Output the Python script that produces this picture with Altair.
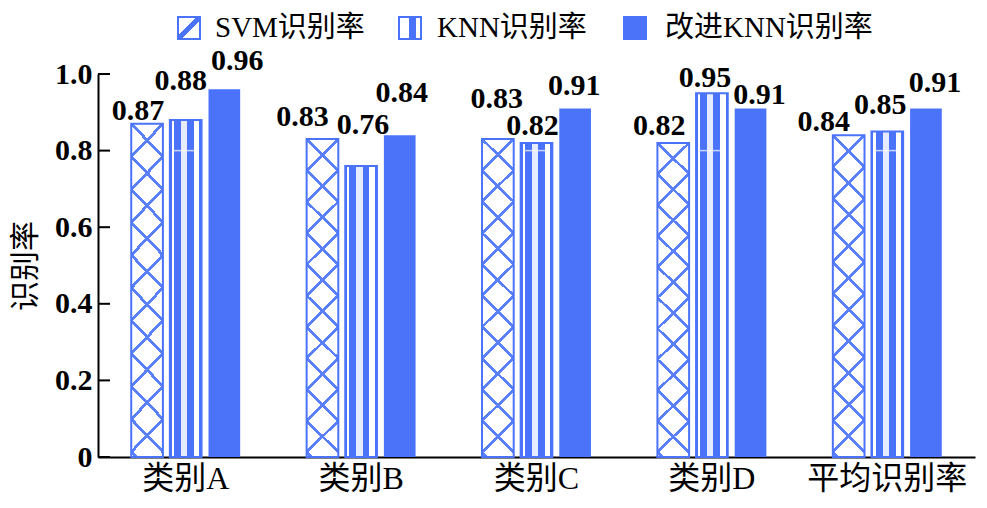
import altair as alt
import pandas as pd

# ---------------- data ----------------
categories = ["类别A", "类别B", "类别C", "类别D", "平均识别率"]
series = ["SVM识别率", "KNN识别率", "改进KNN识别率"]
svm_rate = [0.87, 0.83, 0.83, 0.82, 0.84]
knn_rate = [0.88, 0.76, 0.82, 0.95, 0.85]
iknn_rate = [0.96, 0.84, 0.91, 0.91, 0.91]
y_ticks = [0, 0.2, 0.4, 0.6, 0.8, 1.0]

# label nudges in pixels (dx, gap above bar top), per category x series
label_dx = [[-9, -5, 13], [-20, 2, 2], [-1, -4, -1], [-14, -7, 9], [-25, -7, 9]]
label_gap = [[4, 30, 19], [13, 32, 33], [31, 8, 13], [8, 6, 4], [4, 17, 16]]

rows = []
for ci, c in enumerate(categories):
    for si, (s, vals) in enumerate(zip(series, [svm_rate, knn_rate, iknn_rate])):
        rows.append({"cat": c, "series": s, "value": vals[ci], "label": f"{vals[ci]:.2f}"})
df = pd.DataFrame(rows)

# ---------------- style ----------------
BLUE = "#4a73fa"
LINE = "#5b80fb"
CLEAR = "rgba(74,115,250,0)"
FONT = "Liberation Serif, Noto Sans CJK SC"
W, H = 877, 383
P_IN, P_OUT = 0.18, 0.86
step = (W / 5) / (3 - P_IN + 2 * P_OUT)
bw = step * (1 - P_IN)
bar_h = 0.84 * H


def stripe_stops(centers, half, color=LINE, clear=CLEAR):
    stops = [{"offset": 0, "color": clear}]
    for c in sorted(centers):
        lo, hi = max(0.0, c - half), min(1.0, c + half)
        if hi <= 0 or lo >= 1:
            continue
        stops += [{"offset": lo, "color": clear}, {"offset": lo, "color": color},
                  {"offset": hi, "color": color}, {"offset": hi, "color": clear}]
    stops.append({"offset": 1, "color": clear})
    return stops


a = 0.1
b = a * bar_h / bw
kt = (a / bw) / (a * a + b * b)
Pt = bw * kt
half = 1.4 * kt * 1.414
t0 = b * b / (a * a + b * b)
cent1 = [k * Pt for k in range(0, 40)]
cent2 = [t0 + m * Pt for m in range(-40, 40)]
cent2 = [c for c in cent2 if -0.05 < c < 1.05]
grad1 = {"gradient": "linear", "x1": 0, "y1": 0, "x2": a, "y2": b,
         "stops": stripe_stops(cent1, half)}
grad2 = {"gradient": "linear", "x1": 0, "y1": b, "x2": a, "y2": 0,
         "stops": stripe_stops(cent2, half)}

LIGHT = "#e6ecff"
knn_grad = {"gradient": "linear", "x1": 0, "y1": 0, "x2": 1, "y2": 0,
            "stops": [
                {"offset": 0, "color": BLUE}, {"offset": 0.06, "color": BLUE},
                {"offset": 0.06, "color": "white"}, {"offset": 0.13, "color": "white"},
                {"offset": 0.13, "color": BLUE}, {"offset": 0.35, "color": BLUE},
                {"offset": 0.35, "color": LIGHT}, {"offset": 0.55, "color": LIGHT},
                {"offset": 0.55, "color": BLUE}, {"offset": 0.76, "color": BLUE},
                {"offset": 0.76, "color": "white"}, {"offset": 0.93, "color": "white"},
                {"offset": 0.93, "color": BLUE}, {"offset": 1, "color": BLUE}]}

leg_svm_grad = {"gradient": "linear", "x1": 0, "y1": 0, "x2": 1, "y2": 1,
                "stops": stripe_stops([0.5], 0.09, color=BLUE)}
leg_knn_grad = {"gradient": "linear", "x1": 0, "y1": 0, "x2": 1, "y2": 0,
                "stops": [{"offset": 0, "color": "white"}, {"offset": 0.45, "color": "white"},
                          {"offset": 0.45, "color": BLUE}, {"offset": 0.75, "color": BLUE},
                          {"offset": 0.75, "color": "white"}, {"offset": 1, "color": "white"}]}

# ---------------- encodings ----------------
x_enc = alt.X("cat:N", sort=categories,
              scale=alt.Scale(domain=categories, paddingInner=0, paddingOuter=0),
              axis=alt.Axis(title=None, labelFontSize=32, labelFont=FONT, labelColor="black",
                            labelPadding=6, ticks=False, domainColor="black", domainWidth=2,
                            labelAngle=0, labelBaseline="top"))
xo_enc = alt.XOffset("series:N", sort=series,
                     scale=alt.Scale(domain=series, paddingInner=P_IN, paddingOuter=P_OUT))
y_scale = alt.Scale(domain=[0, 1], nice=False)
y_enc = alt.Y("value:Q", scale=y_scale,
              axis=alt.Axis(values=y_ticks, tickSize=0, labelPadding=6, labelFontSize=30,
                            labelFont=FONT, labelFontWeight="bold", labelColor="black",
                            labelExpr="datum.value == 0 ? '0' : format(datum.value, '.1f')",
                            domainColor="black", domainWidth=2, grid=False,
                            title="识别率", titleFont=FONT, titleFontSize=30,
                            titleFontWeight="normal", titleColor="black", titleAngle=-90,
                            titleX=-73, titleY=H / 2, titleAlign="center",
                            titleBaseline="middle"))

base = alt.Chart(df)
enc = dict(x=x_enc, xOffset=xo_enc, y=y_enc)

svm_p1 = base.transform_filter(alt.datum.series == series[0]).mark_bar(fill=grad1).encode(**enc)
svm_p2 = base.transform_filter(alt.datum.series == series[0]).mark_bar(
    fill=grad2, stroke=BLUE, strokeWidth=2).encode(**enc)
knn_b = base.transform_filter(alt.datum.series == series[1]).mark_bar(
    fill=knn_grad, stroke=BLUE, strokeWidth=2).encode(**enc)
imp_b = base.transform_filter(alt.datum.series == series[2]).mark_bar(color=BLUE).encode(**enc)

white_line = base.transform_filter(
    (alt.datum.series == series[1]) & (alt.datum.value > 0.8)
).transform_calculate(value="0.8").mark_tick(
    color="white", thickness=1.5, size=bw - 6, orient="horizontal").encode(**enc)

tick_rules = alt.Chart(pd.DataFrame({"value": y_ticks})).mark_rule(
    color="black", strokeWidth=2).encode(y=y_enc, x=alt.value(0), x2=alt.value(12))

labels = []
for ci, c in enumerate(categories):
    for si, s in enumerate(series):
        labels.append(
            base.transform_filter((alt.datum.cat == c) & (alt.datum.series == s))
            .mark_text(dx=label_dx[ci][si], dy=-label_gap[ci][si], baseline="alphabetic",
                       align="center", fontSize=30, font=FONT, fontWeight="bold",
                       color="black")
            .encode(text="label:N", **enc))

# ---------------- manual legend ----------------
leg_y1, leg_y2, leg_ty = -57, -35, -46
leg_items = []
for s, x0, tx, fill in [(series[0], 80, 117, leg_svm_grad),
                        (series[1], 301, 339, leg_knn_grad),
                        (series[2], 526, 567, BLUE)]:
    d = alt.Chart(pd.DataFrame({"name": [s]}))
    leg_items.append(d.mark_rect(fill=fill, stroke=BLUE, strokeWidth=2).encode(
        x=alt.value(x0), x2=alt.value(x0 + 22), y=alt.value(leg_y1), y2=alt.value(leg_y2)))
    leg_items.append(d.mark_text(align="left", baseline="middle", fontSize=29, font=FONT,
                                 color="black").encode(
        x=alt.value(tx), y=alt.value(leg_ty), text="name:N"))

chart = alt.layer(svm_p1, svm_p2, knn_b, imp_b, white_line, tick_rules, *labels, *leg_items
                  ).properties(
    width=W, height=H,
    padding={"left": 90, "top": 66, "right": 4, "bottom": 43},
    autosize=alt.AutoSizeParams(type="none"),
).configure_view(stroke=None).configure_axis(grid=False)

chart.save("out.html", embed_options={"renderer": "svg", "actions": False})
